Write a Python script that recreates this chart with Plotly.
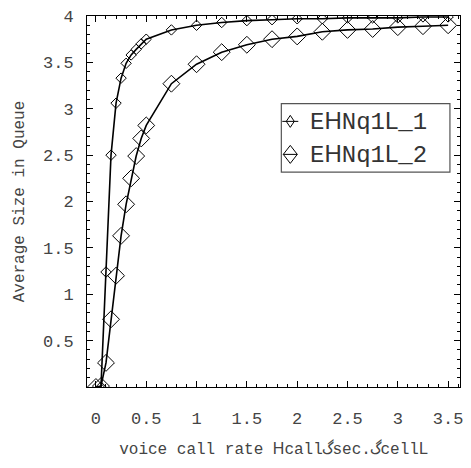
import plotly.graph_objects as go

# Voice call arrival rate (call/sec./cell)
rate_1 = [0.05, 0.1, 0.15, 0.2, 0.25, 0.3, 0.35, 0.4, 0.45, 0.5,
          0.75, 1.0, 1.25, 1.5, 1.75, 2.0, 2.25, 2.5, 2.75, 3.0, 3.25, 3.5]
queue_1 = [0.0, 1.24, 2.50, 3.06, 3.33, 3.49, 3.58, 3.64, 3.70, 3.75,
           3.85, 3.90, 3.93, 3.95, 3.96, 3.97, 3.97, 3.98, 3.98, 3.98, 3.99, 3.99]

rate_2 = [0.0, 0.05, 0.1, 0.15, 0.2, 0.25, 0.3, 0.35, 0.4, 0.45, 0.5,
          0.75, 1.0, 1.25, 1.5, 1.75, 2.0, 2.25, 2.5, 2.75, 3.0, 3.25, 3.5]
queue_2 = [0.0, 0.01, 0.26, 0.73, 1.20, 1.63, 1.97, 2.25, 2.49, 2.68, 2.82,
           3.27, 3.48, 3.61, 3.69, 3.75, 3.78, 3.83, 3.85, 3.86, 3.88, 3.89, 3.90]

x_ticks = [0, 0.5, 1, 1.5, 2, 2.5, 3, 3.5]
x_labels = ["0", "0.5", "1", "1.5", "2", "2.5", "3", "3.5"]
y_ticks = [0.5, 1, 1.5, 2, 2.5, 3, 3.5, 4]
y_labels = ["0.5", "1", "1.5", "2", "2.5", "3", "3.5", "4"]

MONO = "Liberation Mono, Courier New, monospace"
SANS = "Liberation Sans, Arial, sans-serif"


def sans(ch):
    return f"<span style='font-family:{SANS}'>{ch}</span>"


series_names = ["E" + sans("H") + "Nq1" + sans("L") + "_1",
                "E" + sans("H") + "Nq1" + sans("L") + "_2"]

fig = go.Figure()
fig.add_trace(go.Scatter(
    x=rate_1, y=queue_1, mode="lines+markers",
    line=dict(color="black", width=1.6),
    marker=dict(symbol="diamond-open", size=8, color="black", line=dict(width=1)),
    showlegend=False))
fig.add_trace(go.Scatter(
    x=rate_2, y=queue_2, mode="lines+markers",
    line=dict(color="black", width=1.6),
    marker=dict(symbol="diamond-open", size=13, color="black", line=dict(width=1)),
    showlegend=False))

axis_common = dict(
    showline=True, linecolor="black", linewidth=1, mirror="allticks",
    ticks="inside", ticklen=6, tickwidth=1, tickcolor="black",
    showgrid=False, zeroline=False,
    tickfont=dict(family=MONO, size=17, color="#444"),
    minor=dict(ticks="inside", ticklen=3, tickwidth=1, tickcolor="black", dtick=0.1),
)

fig.update_xaxes(
    range=[-0.0887, 3.618], tickvals=x_ticks, ticktext=x_labels,
    ticklabelstandoff=16,
    title=dict(text="voice call rate " + sans("H") + "call\u06afsec.\u06afcell" + sans("L"),
               font=dict(family=MONO, size=16, color="#444"), standoff=14),
    **axis_common)
fig.update_yaxes(
    range=[0, 4], tickvals=y_ticks, ticktext=y_labels,
    ticklabelstandoff=9,
    title=dict(text="Average Size in Queue",
               font=dict(family=MONO, size=16, color="#444"), standoff=14),
    **axis_common)

# Legend box drawn in plot-fraction coordinates
fig.add_shape(type="rect", xref="paper", yref="paper",
              x0=0.521, x1=0.973, y0=0.579, y1=0.764,
              line=dict(color="#555", width=1.2), fillcolor="white", layer="above")

legend_rows = [0.716, 0.627]
sym_x = 0.545
# small diamond with a short line through it
fig.add_shape(type="path", xref="paper", yref="paper",
              xsizemode="pixel", ysizemode="pixel", xanchor=sym_x, yanchor=legend_rows[0],
              path="M-4,0 L0,6 L4,0 L0,-6 Z M-8,0 L8,0",
              line=dict(color="black", width=1), layer="above")
# large diamond with a line inside
fig.add_shape(type="path", xref="paper", yref="paper",
              xsizemode="pixel", ysizemode="pixel", xanchor=sym_x, yanchor=legend_rows[1],
              path="M-7,0 L0,9 L7,0 L0,-9 Z M-7,0 L7,0",
              line=dict(color="black", width=1), layer="above")

for name, yrow in zip(series_names, legend_rows):
    fig.add_annotation(x=0.593, y=yrow, xref="paper", yref="paper",
                       xanchor="left", yanchor="middle", showarrow=False,
                       text=name, font=dict(family=MONO, size=24, color="#333"))

fig.update_layout(
    width=471, height=468,
    margin=dict(l=87, r=8, t=14, b=81),
    plot_bgcolor="white", paper_bgcolor="white",
)

fig.write_html("out.html")
